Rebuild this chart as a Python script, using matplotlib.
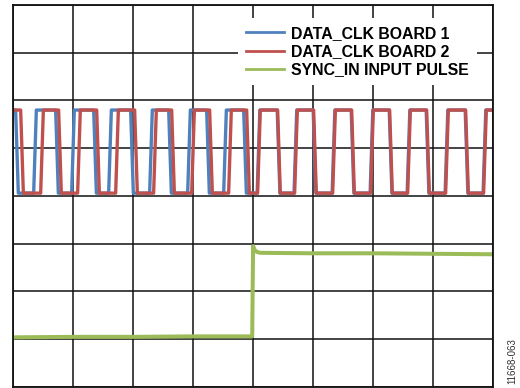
import matplotlib
matplotlib.use('Agg')
import numpy as np
import matplotlib.pyplot as plt

# scope screen: 8 x 8 divisions
clk_high = 5.80
clk_low = 4.06

# edge times (divisions), alternating fall/rise
clk1_start, clk1_end = 0.01, 7.99
clk1_edges = [0.058, 0.359, 0.726, 0.993, 1.361, 1.611, 1.978, 2.295, 2.613, 2.930,
              3.247, 3.531, 3.865, 4.090, 4.425, 4.706, 5.025, 5.342, 5.660, 5.976,
              6.295, 6.594, 6.912, 7.228, 7.563, 7.862]

clk2_start, clk2_end = 0.025, 7.99
clk2_edges = [0.142, 0.476, 0.776, 1.093, 1.411, 1.728, 2.045, 2.362, 2.663, 2.997,
              3.297, 3.614, 3.915, 4.098, 4.432, 4.716, 5.033, 5.351, 5.668, 5.985,
              6.302, 6.603, 6.920, 7.237, 7.571, 7.871]

sync_t = [0.025, 1.0, 2.0, 3.0, 3.985, 4.0, 4.02, 4.06, 4.12, 5.0, 6.0, 7.0, 7.96]
sync_v = [1.04, 1.05, 1.05, 1.06, 1.06, 2.95, 2.88, 2.83, 2.81, 2.80, 2.80, 2.79, 2.78]

labels = ['DATA_CLK BOARD 1', 'DATA_CLK BOARD 2', 'SYNC_IN INPUT PULSE']
colors = ['#4F81BD', '#C0504D', '#9BBB59']


def square_wave(t0, t1, edges, hi, lo, w=0.045):
    level = True
    t, v = [t0], [hi]
    for e in edges:
        t += [e - w / 2, e + w / 2]
        v += [hi if level else lo, lo if level else hi]
        level = not level
    t.append(t1)
    v.append(hi if level else lo)
    return t, v


fig = plt.figure(figsize=(5.2, 3.88), dpi=100)
ax = fig.add_axes([0.02596, 0.00258, 0.92154, 0.98454])

t1, v1 = square_wave(clk1_start, clk1_end, clk1_edges, clk_high, clk_low)
t2, v2 = square_wave(clk2_start, clk2_end, clk2_edges, clk_high, clk_low)
ax.plot(t1, v1, color=colors[0], lw=2.4, label=labels[0], solid_joinstyle='round')
ax.plot(t2, v2, color=colors[1], lw=2.4, label=labels[1], solid_joinstyle='round')
ax.plot(sync_t, sync_v, color=colors[2], lw=2.9, label=labels[2])

ax.set_xlim(0, 8)
ax.set_ylim(0, 8)
ax.set_xticks(np.arange(0, 9))
ax.set_yticks(np.arange(0, 9))
ax.tick_params(length=0, labelbottom=False, labelleft=False)
ax.grid(True, color='#111111', lw=1.1)
for s in ax.spines.values():
    s.set_linewidth(1.3)
    s.set_color('#111111')

leg = ax.legend(loc='upper left', bbox_to_anchor=(238 / 520, 1 - 18 / 388),
                bbox_transform=fig.transFigure, borderaxespad=0, borderpad=0.5,
                labelspacing=0.2, handlelength=2.4, handletextpad=0.45,
                prop={'family': 'Liberation Sans', 'weight': 'bold', 'size': 11.4},
                frameon=True, fancybox=False, framealpha=1)
leg.get_frame().set_edgecolor('white')
leg.get_frame().set_linewidth(0)
for h in leg.legend_handles:
    h.set_linewidth(2.0)

fig.text(0.986, 0.01, '11668-063', rotation=90, ha='center', va='bottom',
         fontsize=7, family='Liberation Sans', color='#333333')

fig.savefig('out.png', dpi=100)
